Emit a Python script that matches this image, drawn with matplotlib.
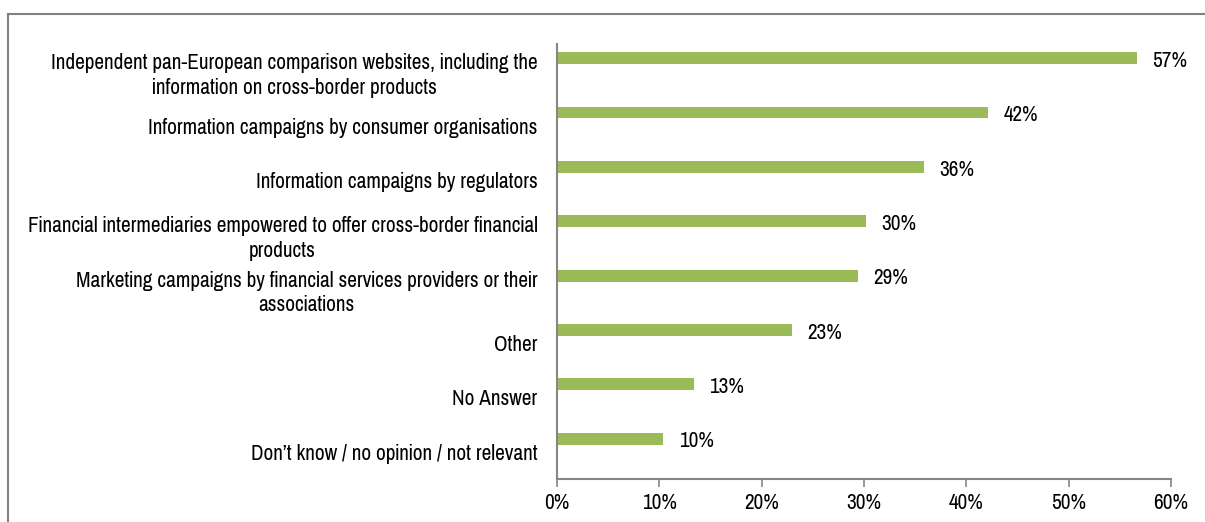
import matplotlib.pyplot as plt
from matplotlib.lines import Line2D

# Survey answers, top to bottom
categories = [
    "Independent pan-European comparison websites, including the\ninformation on cross-border products",
    "Information campaigns by consumer organisations",
    "Information campaigns by regulators",
    "Financial intermediaries empowered to offer cross-border financial\nproducts",
    "Marketing campaigns by financial services providers or their\nassociations",
    "Other",
    "No Answer",
    "Don\u2019t know / no opinion / not relevant",
]
shares = [56.7, 42.1, 35.9, 30.2, 29.4, 23.0, 13.4, 10.4]
xticks = [0, 10, 20, 30, 40, 50, 60]

plt.rcParams["font.family"] = ["Pragati Narrow", "Roboto Condensed", "Liberation Sans", "DejaVu Sans"]

green = "#9BBB59"
grey = "#868686"
fs = 16.6

fig = plt.figure(figsize=(12.05, 5.22), dpi=100)
ax = fig.add_axes([0.4622, 0.0824, 0.5096, 0.8333])

n = len(categories)
pos = list(range(n))
bar_pos = [p - 0.24 for p in pos]
ax.barh(bar_pos, shares, height=0.22, color=green, edgecolor="none")

for y, v in zip(bar_pos, shares):
    ax.text(v + 1.5, y + 0.05, f"{v:.0f}%", va="center", ha="left", fontsize=fs)

ax.set_ylim(n - 0.5, -0.5)
ax.set_xlim(0, 60)
ax.set_xticks(xticks)
ax.set_xticklabels([f"{t}%" for t in xticks], fontsize=fs)
ax.set_yticks(pos)
ax.set_yticklabels(categories, fontsize=fs, multialignment="center", linespacing=1.3)
ax.tick_params(axis="y", length=0, pad=14)
ax.tick_params(axis="x", direction="out", length=6, color=grey, width=1.2, pad=4)

for side in ("top", "right"):
    ax.spines[side].set_visible(False)
for side in ("left", "bottom"):
    ax.spines[side].set_color(grey)
    ax.spines[side].set_linewidth(1.5)

# outer chart frame (top and left edges)
fx, fy = 8 / 1205, 1 - 14 / 522
fig.add_artist(Line2D([fx, 1.0], [fy, fy], color="#808080", lw=1.5, transform=fig.transFigure))
fig.add_artist(Line2D([fx, fx], [0.0, fy], color="#808080", lw=1.5, transform=fig.transFigure))

fig.savefig("out.png", dpi=100, facecolor="white")
